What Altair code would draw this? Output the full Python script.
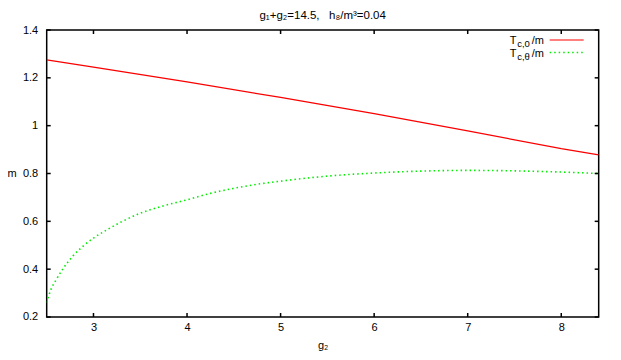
import altair as alt
import pandas as pd

# ---- data ----
g2_red = [2.5, 3.0, 4.0, 5.0, 6.0, 7.0, 8.0, 8.4]
tc0 = [1.275, 1.245, 1.183, 1.118, 1.050, 0.978, 0.904, 0.878]

g2_green = [2.5, 2.54, 2.6, 2.68, 2.78, 2.9, 3.0, 3.15, 3.3, 3.5, 3.75, 4.0, 4.25, 4.5,
            4.75, 5.0, 5.5, 6.0, 6.5, 7.0, 7.5, 8.0, 8.4]
tct = [0.26, 0.31, 0.355, 0.405, 0.455, 0.50, 0.53, 0.566, 0.598, 0.634, 0.665, 0.69,
       0.717, 0.738, 0.755, 0.768, 0.789, 0.802, 0.81, 0.813, 0.811, 0.806, 0.80]

x_ticks = [3, 4, 5, 6, 7, 8]
y_ticks = [0.2, 0.4, 0.6, 0.8, 1.0, 1.2, 1.4]

W, H = 552, 287
FONT = "Liberation Sans"

xs = alt.Scale(domain=[2.5, 8.4], nice=False, zero=False)
ys = alt.Scale(domain=[0.2, 1.4], nice=False, zero=False)

df_red = pd.DataFrame({"g2": g2_red, "v": tc0})
df_green = pd.DataFrame({"g2": g2_green, "v": tct})
df_xt = pd.DataFrame({"t": x_ticks})
df_yt = pd.DataFrame({"t": y_ticks})

x_axis = alt.Axis(values=x_ticks, ticks=False, domain=False, grid=False, labelPadding=5,
                  format="~g", labelFont=FONT, labelFontSize=11, labelColor="black",
                  title="g₂", titleFont=FONT, titleFontSize=11, titleFontWeight="normal",
                  titleY=29, titleBaseline="middle", titleColor="black")
y_axis = alt.Axis(values=y_ticks, ticks=False, domain=False, grid=False, labelPadding=9,
                  format="~g", labelFont=FONT, labelFontSize=11, labelColor="black",
                  title="m", titleAngle=0, titleX=-35, titleY=H / 2, titleAlign="center",
                  titleBaseline="middle", titleFont=FONT, titleFontSize=11,
                  titleFontWeight="normal", titleColor="black")

red = alt.Chart(df_red).mark_line(color="#ff0000", strokeWidth=1.2, clip=True).encode(
    x=alt.X("g2:Q", scale=xs, axis=x_axis),
    y=alt.Y("v:Q", scale=ys, axis=y_axis),
)
green = alt.Chart(df_green).mark_line(color="#00ee00", strokeWidth=1.6, strokeDash=[1.5, 3],
                                      interpolate="monotone", clip=True).encode(
    x=alt.X("g2:Q", scale=xs),
    y=alt.Y("v:Q", scale=ys),
)

tk = dict(color="black", strokeWidth=1.5)
xt_bot = alt.Chart(df_xt).mark_rule(**tk).encode(
    x=alt.X("t:Q", scale=xs), y=alt.value(H), y2=alt.value(H - 4))
xt_top = alt.Chart(df_xt).mark_rule(**tk).encode(
    x=alt.X("t:Q", scale=xs), y=alt.value(0), y2=alt.value(4))
yt_left = alt.Chart(df_yt).mark_rule(**tk).encode(
    y=alt.Y("t:Q", scale=ys), x=alt.value(0), x2=alt.value(4))
yt_right = alt.Chart(df_yt).mark_rule(**tk).encode(
    y=alt.Y("t:Q", scale=ys), x=alt.value(W), x2=alt.value(W - 4))

def txt(text, x, y, size, align="left"):
    return alt.Chart(pd.DataFrame({"s": [text]})).mark_text(
        font=FONT, fontSize=size, align=align, baseline="alphabetic", color="black"
    ).encode(text="s:N", x=alt.value(x), y=alt.value(y))

legend = (
    txt("T", 463, 14, 11) + txt("c,0", 470.5, 17, 9.5) + txt("/m", 485, 14, 11)
    + txt("T", 463, 26.5, 11) + txt("c,θ", 470.5, 29.5, 9.5) + txt("/m", 485, 26.5, 11)
)
leg_red = alt.Chart(pd.DataFrame({"a": [0]})).mark_rule(color="#ff0000", strokeWidth=1.2).encode(
    x=alt.value(503), x2=alt.value(537), y=alt.value(10))
leg_green = alt.Chart(pd.DataFrame({"a": [0]})).mark_rule(
    color="#00ee00", strokeWidth=1.6, strokeDash=[1.5, 3]).encode(
    x=alt.value(503), x2=alt.value(537), y=alt.value(22.5))

chart = alt.layer(
    red, green, xt_bot, xt_top, yt_left, yt_right, legend, leg_red, leg_green
).properties(
    width=W, height=H,
    title=alt.TitleParams("g₁+g₂=14.5,\u00a0\u00a0\u00a0h₈/m³=0.04", font=FONT, fontSize=11.5,
                          fontWeight="normal", color="black", anchor="middle", offset=3),
    autosize=alt.AutoSizeParams(type="none"),
    padding={"left": 38.7, "top": 22, "right": 14, "bottom": 42},
).configure_view(stroke="black", strokeWidth=1.5)

chart.save("out.html", embed_options={"renderer": "svg", "actions": False})
